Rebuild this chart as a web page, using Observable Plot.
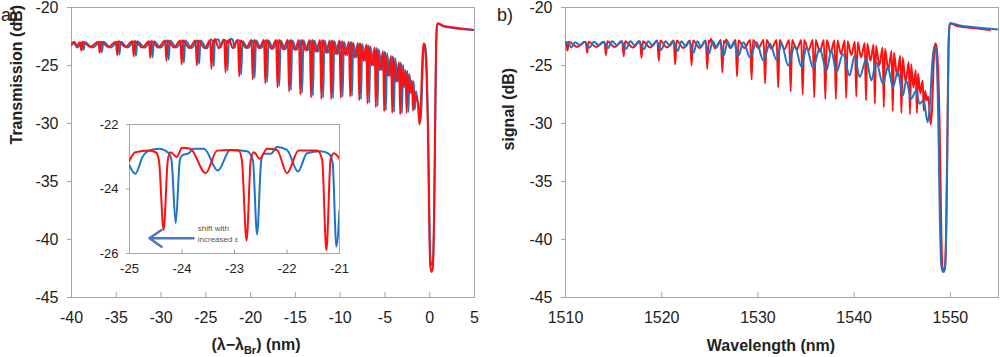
<!DOCTYPE html>
<html><head><meta charset="utf-8">
<script src="https://cdn.jsdelivr.net/npm/d3@7"></script>
<script src="https://cdn.jsdelivr.net/npm/@observablehq/plot@0.6"></script>
<style>
html,body{margin:0;padding:0;background:#fff;}
#wrap{position:relative;width:1000px;height:357px;overflow:hidden;font-family:"Liberation Sans",Arial,sans-serif;}
#wrap svg{position:absolute;}
</style></head><body><div id="wrap"></div>
<script>
// ---------- data ----------
// Panel a, red: (lambda - lambda_Br [nm], transmission [dB]) vertices
const redA = [
[-40,-23.15],[-39.7,-22.95],[-39.4,-23.3],[-39.05,-23.0],
[-38.9,-23.7],[-38.75,-22.95],[-37.9,-23.4],[-37.0,-22.95],
[-36.85,-23.9],[-36.7,-22.95],[-35.9,-23.4],[-35.05,-22.95],
[-34.9,-24.1],[-34.75,-22.9],[-34.0,-23.4],[-33.2,-22.9],
[-33.05,-24.2],[-32.9,-22.9],[-32.1,-23.45],[-31.35,-22.9],
[-31.2,-24.35],[-31.05,-22.9],[-30.3,-23.45],[-29.55,-22.85],
[-29.4,-24.6],[-29.25,-22.85],[-28.55,-23.45],[-27.85,-22.85],
[-27.7,-24.9],[-27.55,-22.85],[-26.85,-23.5],[-26.15,-22.85],
[-26.0,-25.0],[-25.85,-22.85],[-25.15,-23.5],[-24.52,-22.85],
[-24.37,-25.3],[-24.22,-22.86],[-24.1,-23.0],[-24.0,-22.72],[-23.55,-23.51],[-22.95,-22.8],
[-22.8,-25.6],[-22.65,-22.86],[-22.52,-23.05],[-22.4,-22.75],[-22.0,-23.5],[-21.42,-22.8],
[-21.27,-25.95],[-21.12,-22.85],[-20.5,-23.5],[-19.91,-22.8],
[-19.76,-26.2],[-19.61,-22.8],[-19.05,-23.5],[-18.51,-22.8],
[-18.36,-26.55],[-18.21,-22.8],[-17.7,-23.55],[-17.15,-22.8],
[-17.0,-26.9],[-16.85,-22.8],[-16.35,-23.6],[-15.85,-22.8],
[-15.7,-27.25],[-15.55,-22.8],[-15.07,-23.65],[-14.6,-22.8],
[-14.45,-27.5],[-14.3,-22.8],[-13.85,-23.7],[-13.4,-22.8],
[-13.25,-27.75],[-13.1,-22.8],[-12.68,-23.8],[-12.25,-22.8],
[-12.1,-27.9],[-11.95,-22.8],[-11.55,-23.9],[-11.15,-22.82],
[-11.0,-27.9],[-10.85,-22.85],[-10.47,-24.0],[-10.08,-22.85],
[-9.93,-27.8],[-9.78,-22.9],[-9.4,-24.1],[-9.02,-22.95],
[-8.88,-27.7],[-8.74,-23.0],[-8.38,-24.3],[-8.0,-23.05],
[-7.87,-28.0],[-7.74,-23.1],[-7.41,-24.6],[-7.07,-23.2],
[-6.95,-28.3],[-6.83,-23.3],[-6.49,-25.0],[-6.14,-23.45],
[-6.02,-28.6],[-5.9,-23.55],[-5.55,-25.4],[-5.21,-23.75],
[-5.09,-28.95],[-4.97,-23.9],[-4.64,-25.9],[-4.31,-24.15],
[-4.19,-29.1],[-4.07,-24.3],[-3.75,-26.4],[-3.42,-24.7],
[-3.3,-29.2],[-3.18,-24.9],[-2.94,-26.9],[-2.7,-25.4],
[-2.58,-29.1],[-2.46,-25.7],[-2.22,-27.4],[-1.98,-26.3],
[-1.87,-28.9],[-1.72,-27.2],[-1.55,-28.0],[-1.4,-27.7],
[-1.15,-30.1],[-1.0,-28.6],[-0.87,-25.5],[-0.77,-23.7],[-0.66,-23.1],[-0.52,-23.5],[-0.38,-25.3],
[-0.22,-30],[-0.07,-38],[0.05,-42.2],[0.2,-42.8],[0.35,-42.4],[0.48,-38],[0.6,-30],[0.7,-23.5],
[0.82,-21.5],[0.92,-21.35],[1.2,-21.45],[1.6,-21.6],[2.5,-21.7],[3.5,-21.8],[5,-21.95]
];
// Panel a, blue
const blueA = [
[-40,-23.25],[-39.75,-23.05],[-39.35,-23.45],[-38.8,-23.0],
[-38.65,-23.65],[-38.5,-23.0],[-37.65,-23.45],[-36.75,-22.95],
[-36.6,-23.85],[-36.45,-22.95],[-35.65,-23.45],[-34.8,-22.95],
[-34.65,-24.05],[-34.5,-22.95],[-33.75,-23.45],[-32.95,-22.9],
[-32.8,-24.15],[-32.65,-22.9],[-31.85,-23.45],[-31.1,-22.9],
[-30.95,-24.3],[-30.8,-22.9],[-30.05,-23.45],[-29.3,-22.85],
[-29.15,-24.5],[-29.0,-22.85],[-28.3,-23.45],[-27.6,-22.85],
[-27.45,-24.75],[-27.3,-22.85],[-26.6,-23.5],[-25.9,-22.85],
[-25.75,-24.85],[-25.6,-22.85],[-24.89,-23.53],[-24.44,-22.75],[-24.25,-22.89],
[-24.12,-25.06],[-24.0,-22.96],[-23.87,-22.89],[-23.78,-22.75],[-23.58,-22.75],[-23.32,-23.43],[-23.08,-22.79],[-22.76,-22.83],
[-22.57,-25.41],[-22.44,-22.91],[-22.31,-22.91],[-22.19,-22.7],[-22.0,-22.79],[-21.79,-23.46],[-21.62,-22.89],[-21.36,-22.83],[-21.2,-22.91],
[-21.06,-25.78],[-20.9,-22.9],[-20.3,-23.5],[-19.7,-22.85],
[-19.55,-26.05],[-19.4,-22.85],[-18.85,-23.5],[-18.3,-22.85],
[-18.15,-26.4],[-18.0,-22.85],[-17.5,-23.55],[-16.95,-22.85],
[-16.8,-26.75],[-16.65,-22.85],[-16.15,-23.6],[-15.65,-22.85],
[-15.5,-27.1],[-15.35,-22.85],[-14.87,-23.65],[-14.4,-22.85],
[-14.25,-27.35],[-14.1,-22.85],[-13.65,-23.7],[-13.2,-22.85],
[-13.05,-27.6],[-12.9,-22.85],[-12.48,-23.8],[-12.05,-22.85],
[-11.9,-27.75],[-11.75,-22.85],[-11.35,-23.9],[-10.95,-22.87],
[-10.8,-27.8],[-10.65,-22.9],[-10.27,-24.0],[-9.88,-22.9],
[-9.73,-27.7],[-9.58,-22.95],[-9.2,-24.1],[-8.82,-23.0],
[-8.68,-27.6],[-8.54,-23.05],[-8.18,-24.3],[-7.8,-23.1],
[-7.67,-27.9],[-7.54,-23.15],[-7.21,-24.6],[-6.87,-23.25],
[-6.75,-28.2],[-6.63,-23.35],[-6.29,-25.0],[-5.94,-23.5],
[-5.82,-28.5],[-5.7,-23.6],[-5.35,-25.4],[-5.01,-23.8],
[-4.89,-28.85],[-4.77,-23.95],[-4.44,-25.9],[-4.11,-24.2],
[-3.99,-29.0],[-3.87,-24.35],[-3.55,-26.4],[-3.22,-24.75],
[-3.1,-29.1],[-2.98,-24.95],[-2.74,-26.9],[-2.5,-25.45],
[-2.38,-29.0],[-2.26,-25.75],[-2.02,-27.4],[-1.78,-26.35],
[-1.67,-28.8],[-1.52,-27.25],[-1.38,-28.0],[-1.25,-28.4],
[-1.05,-29.9],[-0.92,-28.5],[-0.8,-25.5],[-0.7,-23.7],[-0.6,-23.15],[-0.47,-23.5],[-0.33,-25.3],
[-0.18,-30],[-0.03,-38],[0.08,-41.8],[0.22,-42.2],[0.37,-41.8],[0.5,-38],[0.62,-30],[0.72,-23.5],
[0.84,-21.5],[0.94,-21.4],[1.2,-21.5],[1.6,-21.65],[2.5,-21.75],[3.5,-21.85],[5,-21.95]
];
// Inset (panel a, zoom on -25 .. -21 nm)
const insetRed = [
[-25,-23.12],[-24.89,-22.86],[-24.63,-22.81],[-24.5,-22.86],[-24.44,-23.1],[-24.35,-25.27],[-24.27,-23.1],[-24.22,-22.86],
[-24.1,-23.01],[-24.0,-22.72],[-23.84,-22.75],[-23.55,-23.51],[-23.33,-22.81],[-23.08,-22.79],[-22.92,-22.81],
[-22.86,-23.1],[-22.77,-25.6],[-22.69,-23.1],[-22.63,-22.86],[-22.52,-23.06],[-22.38,-22.75],[-22.19,-22.79],
[-22.0,-23.51],[-21.78,-22.81],[-21.42,-22.81],[-21.33,-23.1],[-21.25,-25.9],[-21.17,-23.1],[-21.11,-22.89],[-21.0,-23.06]
];
const insetBlue = [
[-25,-23.27],[-24.89,-23.53],[-24.75,-23.0],[-24.63,-22.81],[-24.44,-22.75],[-24.25,-22.89],[-24.2,-23.1],
[-24.12,-25.06],[-24.04,-23.1],[-24.0,-22.96],[-23.87,-22.89],[-23.78,-22.75],[-23.58,-22.75],[-23.32,-23.43],
[-23.08,-22.79],[-22.76,-22.83],[-22.65,-23.1],[-22.57,-25.41],[-22.49,-23.1],[-22.44,-22.91],[-22.31,-22.91],
[-22.19,-22.7],[-22.0,-22.79],[-21.79,-23.46],[-21.62,-22.89],[-21.36,-22.83],[-21.2,-22.91],[-21.13,-23.2],
[-21.06,-25.78],[-21.0,-24.67]
];
// Panel b: red is the panel-a red trace placed at the Bragg wavelength
const lambdaBr = 1549.1;
// Panel b, blue: (wavelength [nm], signal [dB])
const blueB = [
[1510.0,-23.15],[1510.25,-22.98],[1510.6,-23.45],[1511.0,-23.0],[1511.5,-23.25],[1511.95,-22.95],
[1512.5,-23.45],[1512.95,-22.95],[1513.45,-23.25],[1513.9,-22.95],
[1514.4,-23.5],[1514.85,-22.92],[1515.35,-23.25],[1515.75,-22.92],
[1516.3,-23.55],[1516.75,-22.92],[1517.2,-23.25],[1517.6,-22.9],
[1518.15,-23.6],[1518.6,-22.9],[1519.05,-23.3],[1519.45,-22.9],
[1519.95,-23.65],[1520.4,-22.9],[1520.85,-23.3],[1521.2,-22.9],
[1521.65,-23.75],[1522.05,-22.9],[1522.5,-23.35],[1522.85,-22.9],
[1523.3,-23.9],[1523.7,-22.9],[1524.1,-23.4],[1524.45,-22.92],
[1524.9,-24.0],[1525.3,-22.92],[1525.7,-23.45],[1526.0,-22.95],
[1526.45,-24.15],[1526.85,-22.95],[1527.2,-23.5],[1527.5,-22.98],
[1527.95,-24.2],[1528.5,-23.0],[1529.17,-24.3],[1529.86,-22.99],
[1530.55,-24.57],[1531.24,-23.13],[1531.93,-24.5],[1532.45,-23.13],
[1533.14,-25.0],[1533.83,-23.28],[1534.53,-25.14],[1535.04,-23.42],
[1535.73,-25.2],[1536.42,-23.56],[1537.12,-25.43],[1537.63,-23.71],
[1538.15,-25.58],[1538.84,-24.0],[1539.53,-25.86],[1540.05,-24.14],
[1540.57,-26.0],[1541.26,-24.43],[1541.78,-26.29],[1542.3,-24.71],
[1542.99,-26.58],[1543.5,-25.14],[1544.02,-26.87],[1544.54,-25.57],
[1545.06,-27.59],[1545.41,-26.29],[1545.93,-27.87],[1546.44,-27.16],
[1546.79,-28.3],[1547.2,-28.0],[1547.65,-29.9],[1547.9,-28.0],[1548.1,-25.0],[1548.3,-23.4],
[1548.45,-23.5],[1548.6,-25.0],[1548.75,-30],[1548.9,-38],[1549.05,-42.2],[1549.25,-42.8],
[1549.45,-42.2],[1549.6,-38],[1549.72,-30],[1549.82,-23],[1549.95,-21.35],[1550.3,-21.4],
[1551,-21.55],[1552.5,-21.7],[1555,-21.9]
];
// ticks
const xTicksA = [-40,-35,-30,-25,-20,-15,-10,-5,0,5];
const xTicksB = [1510,1520,1530,1540,1550];
const yTicks = [-45,-40,-35,-30,-25,-20];
const insetXTicks = [-25,-24,-23,-22,-21];
const insetYTicks = [-26,-24,-22];

// ---------- drawing ----------
const RED = "#ff1010", BLUE = "#1f74c4", AXIS = "#a6a6a6", TXT = "#222";
const FONT = "'Liberation Sans', Arial, sans-serif";
const rows = (pts, dx = 0) => pts.map(([x, y]) => ({x: x + dx, y}));
const fmt = d => String(d);
const wrap = document.getElementById("wrap");

function addText(svg, x, y, str, size, weight, anchor) {
  return d3.select(svg).append("text").attr("x", x).attr("y", y)
    .attr("font-family", FONT).attr("font-size", size).attr("font-weight", weight || "normal")
    .attr("text-anchor", anchor || "start").attr("fill", TXT).text(str);
}

const svgA = Plot.plot({
  width: 490, height: 357, marginLeft: 71, marginRight: 16, marginTop: 7, marginBottom: 60,
  style: {fontFamily: FONT, fontSize: "16px", color: TXT, background: "transparent"},
  x: {domain: [-40, 5]},
  y: {domain: [-45, -20]},
  marks: [
    Plot.frame({stroke: AXIS}),
    Plot.ruleX(xTicksA, {y1: -45, y2: -44.57, stroke: AXIS}),
    Plot.axisX(xTicksA, {tickSize: 0, tickPadding: 14, tickFormat: fmt, label: null, fill: TXT}),
    Plot.axisY(yTicks, {tickSize: 4, tickPadding: 9, tickFormat: fmt, label: null, stroke: AXIS, fill: TXT}),
    Plot.line(rows(blueA), {x: "x", y: "y", stroke: BLUE, strokeWidth: 2, curve: "monotone-x", clip: true}),
    Plot.line(rows(redA), {x: "x", y: "y", stroke: RED, strokeWidth: 2, curve: "monotone-x", clip: true}),
    Plot.text(["Transmission (dB)"], {text: d => d, frameAnchor: "left", lineAnchor: "middle", rotate: -90, dx: -55, dy: -8, fontWeight: "bold", fontSize: 16, fill: TXT})
  ]
});
svgA.style.left = "0px"; svgA.style.top = "0px";
addText(svgA, 1, 21, "a)", 18);
// x-axis title with subscript
const tA = addText(svgA, 256, 350, null, 16, "bold", "middle");
tA.append("tspan").text("(λ−λ");
tA.append("tspan").attr("font-size", 11).attr("dy", 4).text("Br");
tA.append("tspan").attr("dy", -4).text(") (nm)");
wrap.appendChild(svgA);

const svgB = Plot.plot({
  width: 510, height: 357, marginLeft: 75, marginRight: 2, marginTop: 7, marginBottom: 60,
  style: {fontFamily: FONT, fontSize: "16px", color: TXT, background: "transparent"},
  x: {domain: [1510, 1555]},
  y: {domain: [-45, -20]},
  marks: [
    Plot.frame({stroke: AXIS}),
    Plot.ruleX(xTicksB, {y1: -45, y2: -44.57, stroke: AXIS}),
    Plot.axisX(xTicksB, {tickSize: 0, tickPadding: 14, tickFormat: fmt, label: null, fill: TXT}),
    Plot.axisY(yTicks, {tickSize: 4, tickPadding: 9, tickFormat: fmt, label: null, stroke: AXIS, fill: TXT}),
    Plot.line(rows(redA, lambdaBr), {x: "x", y: "y", stroke: RED, strokeWidth: 2, curve: "monotone-x", clip: true}),
    Plot.line(rows(blueB), {x: "x", y: "y", stroke: BLUE, strokeWidth: 2, curve: "monotone-x", clip: true}),
    Plot.text(["signal (dB)"], {text: d => d, frameAnchor: "left", lineAnchor: "middle", rotate: -90, dx: -57, dy: -2, fontWeight: "bold", fontSize: 16, fill: TXT}),
    Plot.text(["Wavelength (nm)"], {text: d => d, frameAnchor: "bottom", lineAnchor: "middle", dx: -11, dy: 48, fontWeight: "bold", fontSize: 16, fill: TXT})
  ]
});
svgB.style.left = "490px"; svgB.style.top = "0px";
addText(svgB, 7, 21, "b)", 18);
wrap.appendChild(svgB);

const svgI = Plot.plot({
  width: 265, height: 164, marginLeft: 40, marginRight: 15, marginTop: 10, marginBottom: 25,
  style: {fontFamily: FONT, fontSize: "13px", color: TXT, background: "transparent"},
  x: {domain: [-25, -21]},
  y: {domain: [-26, -22]},
  marks: [
    Plot.frame({fill: "white", stroke: AXIS}),
    Plot.ruleX(insetXTicks, {y1: -26, y2: -25.88, stroke: AXIS}),
    Plot.axisX(insetXTicks, {tickSize: 0, tickPadding: 10, tickFormat: fmt, label: null, fill: TXT}),
    Plot.axisY(insetYTicks, {tickSize: 3, tickPadding: 8, tickFormat: fmt, label: null, stroke: AXIS, fill: TXT}),
    Plot.line(rows(insetBlue), {x: "x", y: "y", stroke: BLUE, strokeWidth: 2, curve: "monotone-x", clip: true}),
    Plot.line(rows(insetRed), {x: "x", y: "y", stroke: RED, strokeWidth: 2, curve: "monotone-x", clip: true}),
    Plot.arrow([0], {x1: -23.78, x2: -24.62, y1: -25.53, y2: -25.53, stroke: "#4a78c2", strokeWidth: 2.5, headLength: 9, headAngle: 70}),
    Plot.text(["shift with", "increased ε"], {text: d => d, x: -23.7, y: (d, i) => i ? -25.57 : -25.23, textAnchor: "start", lineAnchor: "middle", fontSize: 8, fill: "#555"})
  ]
});
svgI.style.left = "89px"; svgI.style.top = "114px";
wrap.appendChild(svgI);
</script></body></html>
